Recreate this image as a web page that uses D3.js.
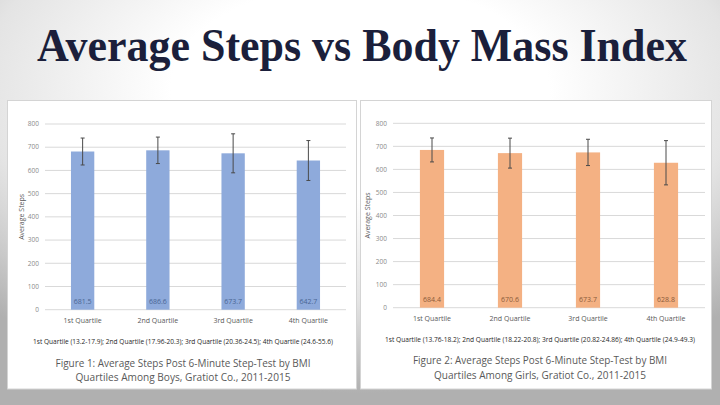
<!DOCTYPE html>
<html>
<head>
<meta charset="utf-8">
<script src="https://cdn.jsdelivr.net/npm/d3@7"></script>
<style>
  html, body { margin: 0; padding: 0; background: #fff; }
  svg { display: block; }
</style>
</head>
<body>
<div id="chart"></div>
<script>
// values
const categories = ["1st Quartile", "2nd Quartile", "3rd Quartile", "4th Quartile"];
const yTicks = [0, 100, 200, 300, 400, 500, 600, 700, 800];

const boysMeans = [681.5, 686.6, 673.7, 642.7];
const boysErr = [58, 57, 84, 86];
const girlsMeans = [684.4, 670.6, 673.7, 628.8];
const girlsErr = [52, 65, 57, 96];

const boysRanges = "1st Quartile (13.2-17.9); 2nd Quartile (17.96-20.3); 3rd Quartile (20.36-24.5); 4th Quartile (24.6-55.6)";
const girlsRanges = "1st Quartile (13.76-18.2); 2nd Quartile (18.22-20.8); 3rd Quartile (20.82-24.86); 4th Quartile (24.9-49.3)";
const boysCaption = ["Figure 1: Average Steps Post 6-Minute Step-Test by BMI", "Quartiles Among Boys, Gratiot Co., 2011-2015"];
const girlsCaption = ["Figure 2: Average Steps Post 6-Minute Step-Test by BMI", "Quartiles Among Girls, Gratiot Co., 2011-2015"];

const WIDTH = 720, HEIGHT = 405;
const FONT = "'Open Sans', 'Noto Sans', sans-serif";

const svg = d3.select("#chart").append("svg")
  .attr("width", WIDTH)
  .attr("height", HEIGHT);

// slide background: white centre fading to grey edges
const defs = svg.append("defs");
const grad = defs.append("radialGradient")
  .attr("id", "bg")
  .attr("cx", "50%").attr("cy", "22%").attr("r", "75%");
grad.append("stop").attr("offset", "0.35").attr("stop-color", "#ffffff");
grad.append("stop").attr("offset", "0.7").attr("stop-color", "#e4e4e4");
grad.append("stop").attr("offset", "1").attr("stop-color", "#b0b0b0");

svg.append("rect")
  .attr("width", WIDTH).attr("height", HEIGHT)
  .attr("fill", "url(#bg)");

// title: smaller font stretched vertically to get the tall, narrow look
svg.append("text")
  .attr("transform", "translate(362,61) scale(1,1.12)")
  .attr("text-anchor", "middle")
  .attr("textLength", 650)
  .attr("lengthAdjust", "spacingAndGlyphs")
  .style("font-family", "'Liberation Serif', 'Times New Roman', serif")
  .style("font-weight", "bold")
  .style("font-size", "42px")
  .style("fill", "#1b1f3b")
  .text("Average Steps vs Body Mass Index");

/* ---------- one panel ---------- */
function drawPanel(p) {
  const g = svg.append("g");

  g.append("rect")
    .attr("x", p.box[0]).attr("y", p.box[1])
    .attr("width", p.box[2]).attr("height", p.box[3])
    .attr("fill", "#fff")
    .attr("stroke", "#d4d4d4");

  const x = d3.scaleBand()
    .domain(categories)
    .range(p.xRange)
    .padding(0);

  const y = d3.scaleLinear()
    .domain([0, 800])
    .range(p.yRange);

  // gridlines + tick labels
  g.selectAll(".grid")
    .data(yTicks)
    .enter()
    .append("line")
    .attr("x1", p.xRange[0]).attr("x2", p.xRange[1])
    .attr("y1", (d) => y(d)).attr("y2", (d) => y(d))
    .attr("stroke", "#d9d9d9")
    .attr("stroke-width", 1);

  g.selectAll(".ytick")
    .data(yTicks)
    .enter()
    .append("text")
    .attr("x", p.xRange[0] - 6)
    .attr("y", (d) => y(d))
    .attr("dy", "0.35em")
    .attr("text-anchor", "end")
    .style("font-family", FONT)
    .style("font-size", "6.5px")
    .style("fill", "#8a8a8a")
    .text((d) => d);

  const barW = x.bandwidth() * 0.31;
  const cx = (d) => x(d) + x.bandwidth() / 2;

  g.selectAll(".bar")
    .data(categories)
    .enter()
    .append("rect")
    .attr("x", (d) => cx(d) - barW / 2)
    .attr("y", (d, i) => y(p.means[i]))
    .attr("width", barW)
    .attr("height", (d, i) => y(0) - y(p.means[i]))
    .attr("fill", p.color);

  // error bars
  categories.forEach((c, i) => {
    const top = y(p.means[i] + p.err[i]);
    const bot = y(p.means[i] - p.err[i]);
    g.append("line")
      .attr("x1", cx(c)).attr("x2", cx(c))
      .attr("y1", top).attr("y2", bot)
      .attr("stroke", "#4a4a4a").attr("stroke-width", 1);
    [top, bot].forEach((yy) => {
      g.append("line")
        .attr("x1", cx(c) - 2).attr("x2", cx(c) + 2)
        .attr("y1", yy).attr("y2", yy)
        .attr("stroke", "#4a4a4a").attr("stroke-width", 1);
    });
  });

  g.selectAll(".val")
    .data(categories)
    .enter()
    .append("text")
    .attr("x", cx)
    .attr("y", y(0) - 8)
    .attr("dy", "0.35em")
    .attr("text-anchor", "middle")
    .style("font-family", FONT)
    .style("font-size", "7px")
    .style("fill", p.labelColor)
    .text((d, i) => p.means[i].toFixed(1));

  g.selectAll(".cat")
    .data(categories)
    .enter()
    .append("text")
    .attr("x", cx)
    .attr("y", y(0) + 11)
    .attr("dy", "0.35em")
    .attr("text-anchor", "middle")
    .style("font-family", FONT)
    .style("font-size", "7px")
    .style("fill", "#595959")
    .text((d) => d);

  g.append("text")
    .attr("transform", `translate(${p.yTitleX},${(y(0) + y(800)) / 2}) rotate(-90)`)
    .attr("text-anchor", "middle")
    .attr("dy", "0.35em")
    .style("font-family", FONT)
    .style("font-size", "7px")
    .style("fill", "#595959")
    .text("Average Steps");

  g.append("text")
    .attr("x", p.center)
    .attr("y", p.rangeY)
    .attr("dy", "0.35em")
    .attr("text-anchor", "middle")
    .attr("textLength", p.rangeLen)
    .attr("lengthAdjust", "spacingAndGlyphs")
    .style("font-family", FONT)
    .style("font-size", "7px")
    .style("fill", "#1f1f1f")
    .text(p.ranges);

  p.caption.forEach((line, i) => {
    g.append("text")
      .attr("x", p.center)
      .attr("y", p.capY[i])
      .attr("dy", "0.35em")
      .attr("text-anchor", "middle")
      .attr("textLength", p.capLen[i])
      .attr("lengthAdjust", "spacingAndGlyphs")
      .style("font-family", FONT)
      .style("font-size", "11px")
      .style("fill", "#595959")
      .text(line);
  });
}

drawPanel({
  box: [7.5, 100.5, 349, 288.5],
  xRange: [45, 346],
  yRange: [309.7, 124],
  means: boysMeans,
  err: boysErr,
  color: "#8eaadb",
  labelColor: "#4a6694",
  yTitleX: 22,
  center: 183,
  rangeY: 341.7,
  rangeLen: 300,
  ranges: boysRanges,
  caption: boysCaption,
  capY: [362.7, 376.7],
  capLen: [255, 215]
});

drawPanel({
  box: [360.5, 100.5, 351, 288.5],
  xRange: [393, 705],
  yRange: [307.7, 123.3],
  means: girlsMeans,
  err: girlsErr,
  color: "#f4b183",
  labelColor: "#8a5a3a",
  yTitleX: 368,
  center: 540,
  rangeY: 339.3,
  rangeLen: 310,
  ranges: girlsRanges,
  caption: girlsCaption,
  capY: [360, 375],
  capLen: [254, 212]
});
</script>
</body>
</html>
